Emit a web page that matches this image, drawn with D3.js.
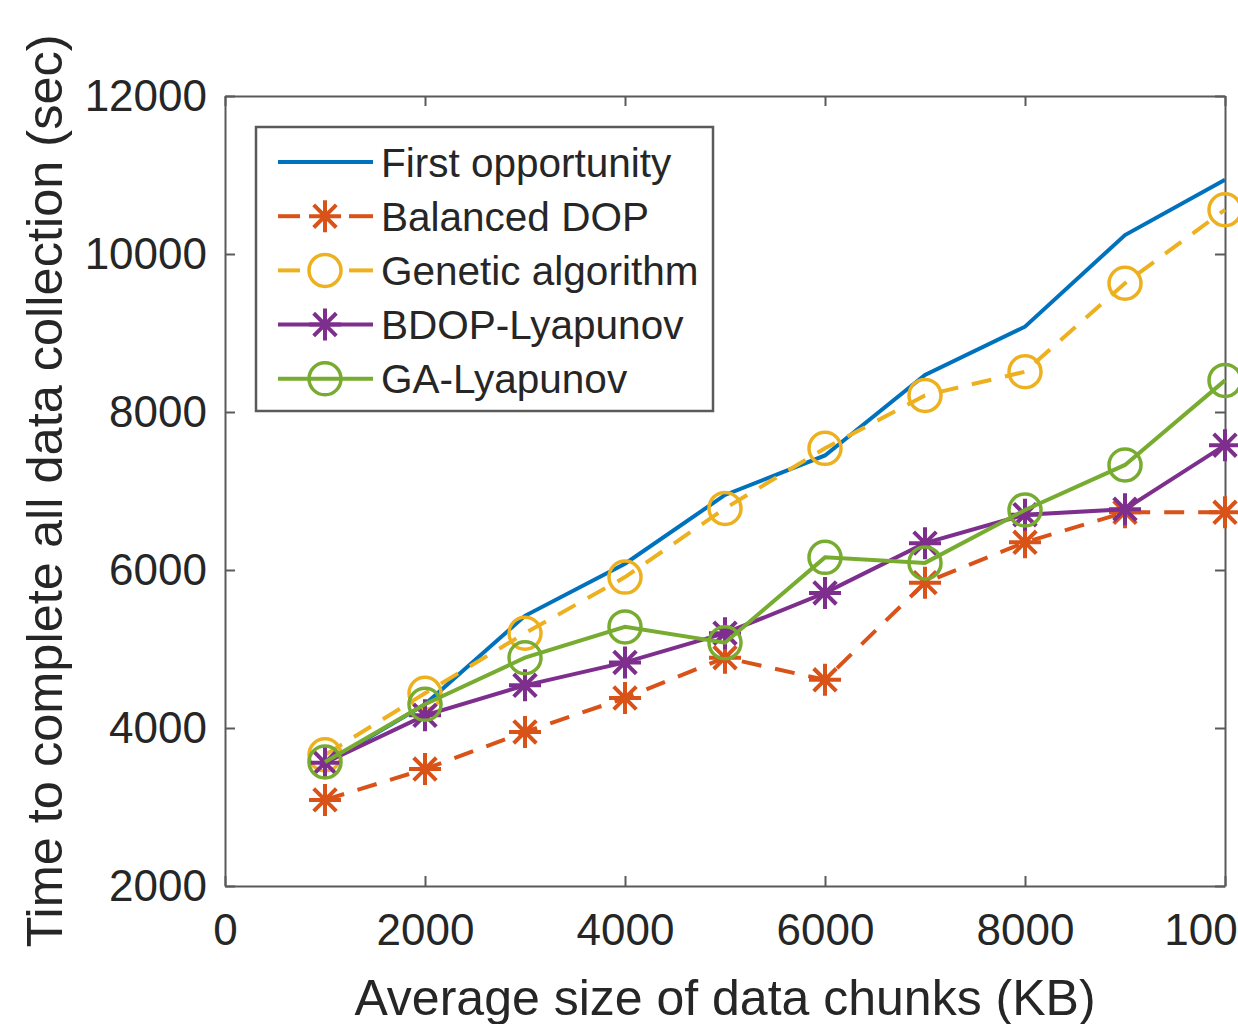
<!DOCTYPE html>
<html>
<head>
<meta charset="utf-8">
<script src="https://cdn.jsdelivr.net/npm/d3@7"></script>
<style>
  body { margin: 0; background: #fff; }
  svg { display: block; font-family: "Liberation Sans", Arial, sans-serif; }
</style>
</head>
<body>
<div id="chart"></div>
<script>
const sizes = [1000, 2000, 3000, 4000, 5000, 6000, 7000, 8000, 9000, 10000];
const firstOpportunity = [3550, 4300, 5420, 6080, 6950, 7450, 8470, 9080, 10240, 10940];
const balancedDop = [3090, 3480, 3950, 4380, 4890, 4610, 5840, 6350, 6730, 6730];
const geneticAlgorithm = [3660, 4440, 5200, 5910, 6780, 7540, 8210, 8510, 9630, 10560];
const bdopLyapunov = [3560, 4160, 4540, 4830, 5200, 5710, 6340, 6700, 6770, 7580];
const gaLyapunov = [3570, 4300, 4890, 5280, 5080, 6160, 6090, 6760, 7330, 8400];
const xTicks = [0, 2000, 4000, 6000, 8000, 10000];
const yTicks = [2000, 4000, 6000, 8000, 10000, 12000];

const series = [
  { name: "First opportunity", values: firstOpportunity, color: "#0072BD", dash: null, marker: "none" },
  { name: "Balanced DOP", values: balancedDop, color: "#D95319", dash: "20,14", marker: "star" },
  { name: "Genetic algorithm", values: geneticAlgorithm, color: "#EDB120", dash: "20,14", marker: "circle" },
  { name: "BDOP-Lyapunov", values: bdopLyapunov, color: "#7E2F8E", dash: null, marker: "star" },
  { name: "GA-Lyapunov", values: gaLyapunov, color: "#77AC30", dash: null, marker: "circle" }
];

const width = 1238, height = 1024;
const plotLeft = 225, plotRight = 1225, plotTop = 96, plotBottom = 886;
const textColor = "#262626";
const axisColor = "#5a5a5a";

const x = d3.scaleLinear().domain([0, 10000]).range([plotLeft, plotRight]);
const y = d3.scaleLinear().domain([2000, 12000]).range([plotBottom, plotTop]);

const svg = d3.select("#chart").append("svg")
    .attr("width", width)
    .attr("height", height);

function styleAxis(g) {
  g.select(".domain").attr("stroke", axisColor).attr("stroke-width", 2);
  g.selectAll(".tick line").attr("stroke", axisColor).attr("stroke-width", 2);
  g.selectAll("text").attr("font-size", 44).attr("fill", textColor);
}

// axes with inward ticks, box on all four sides
svg.append("g")
    .attr("transform", `translate(0,${plotBottom})`)
    .call(d3.axisBottom(x).tickValues(xTicks).tickSize(-10).tickSizeOuter(0).tickPadding(28).tickFormat(d3.format("d")))
    .call(styleAxis);

svg.append("g")
    .attr("transform", `translate(0,${plotTop})`)
    .call(d3.axisTop(x).tickValues(xTicks).tickSize(-10).tickSizeOuter(0).tickFormat(""))
    .call(styleAxis);

svg.append("g")
    .attr("transform", `translate(${plotLeft},0)`)
    .call(d3.axisLeft(y).tickValues(yTicks).tickSize(-10).tickSizeOuter(0).tickPadding(18).tickFormat(d3.format("d")))
    .call(styleAxis);

svg.append("g")
    .attr("transform", `translate(${plotRight},0)`)
    .call(d3.axisRight(y).tickValues(yTicks).tickSize(-10).tickSizeOuter(0).tickFormat(""))
    .call(styleAxis);

// axis titles
svg.append("text")
    .attr("x", (plotLeft + plotRight) / 2)
    .attr("y", 1015)
    .attr("text-anchor", "middle")
    .attr("font-size", 50)
    .attr("fill", textColor)
    .text("Average size of data chunks (KB)");

svg.append("text")
    .attr("transform", `translate(62,${(plotTop + plotBottom) / 2}) rotate(-90)`)
    .attr("text-anchor", "middle")
    .attr("font-size", 50.5)
    .attr("fill", textColor)
    .text("Time to complete all data collection (sec)");

function drawMarker(g, type, color) {
  if (type === "circle") {
    g.append("circle").attr("r", 16).attr("fill", "none")
        .attr("stroke", color).attr("stroke-width", 3.5);
  } else if (type === "star") {
    const r = 16, d = r * Math.SQRT1_2;
    const p = d3.path();
    p.moveTo(-r, 0); p.lineTo(r, 0);
    p.moveTo(0, -r); p.lineTo(0, r);
    p.moveTo(-d, -d); p.lineTo(d, d);
    p.moveTo(-d, d); p.lineTo(d, -d);
    g.append("path").attr("d", p.toString()).attr("fill", "none")
        .attr("stroke", color).attr("stroke-width", 4);
  }
}

const line = d3.line().x((d, i) => x(sizes[i])).y(d => y(d));

const gSeries = svg.append("g");
series.forEach(s => {
  const g = gSeries.append("g");
  g.append("path")
      .datum(s.values)
      .attr("d", line)
      .attr("fill", "none")
      .attr("stroke", s.color)
      .attr("stroke-width", 4)
      .attr("stroke-dasharray", s.dash);
  s.values.forEach((v, i) => {
    const m = g.append("g").attr("transform", `translate(${x(sizes[i])},${y(v)})`);
    drawMarker(m, s.marker, s.color);
  });
});

// legend
const legend = svg.append("g");
legend.append("rect")
    .attr("x", 256).attr("y", 127)
    .attr("width", 457).attr("height", 284)
    .attr("fill", "#fff")
    .attr("stroke", axisColor)
    .attr("stroke-width", 2.5);

series.forEach((s, i) => {
  const ly = 162 + i * 54.2;
  const row = legend.append("g");
  if (s.dash) {
    row.append("line").attr("x1", 278).attr("x2", 300).attr("y1", ly).attr("y2", ly)
        .attr("stroke", s.color).attr("stroke-width", 4);
    row.append("line").attr("x1", 349).attr("x2", 373).attr("y1", ly).attr("y2", ly)
        .attr("stroke", s.color).attr("stroke-width", 4);
  } else {
    row.append("line").attr("x1", 278).attr("x2", 373).attr("y1", ly).attr("y2", ly)
        .attr("stroke", s.color).attr("stroke-width", 4);
  }
  const m = row.append("g").attr("transform", `translate(325,${ly})`);
  drawMarker(m, s.marker, s.color);
  row.append("text")
      .attr("x", 381).attr("y", ly)
      .attr("dy", "0.36em")
      .attr("font-size", 40.5)
      .attr("fill", textColor)
      .text(s.name);
});
</script>
</body>
</html>
